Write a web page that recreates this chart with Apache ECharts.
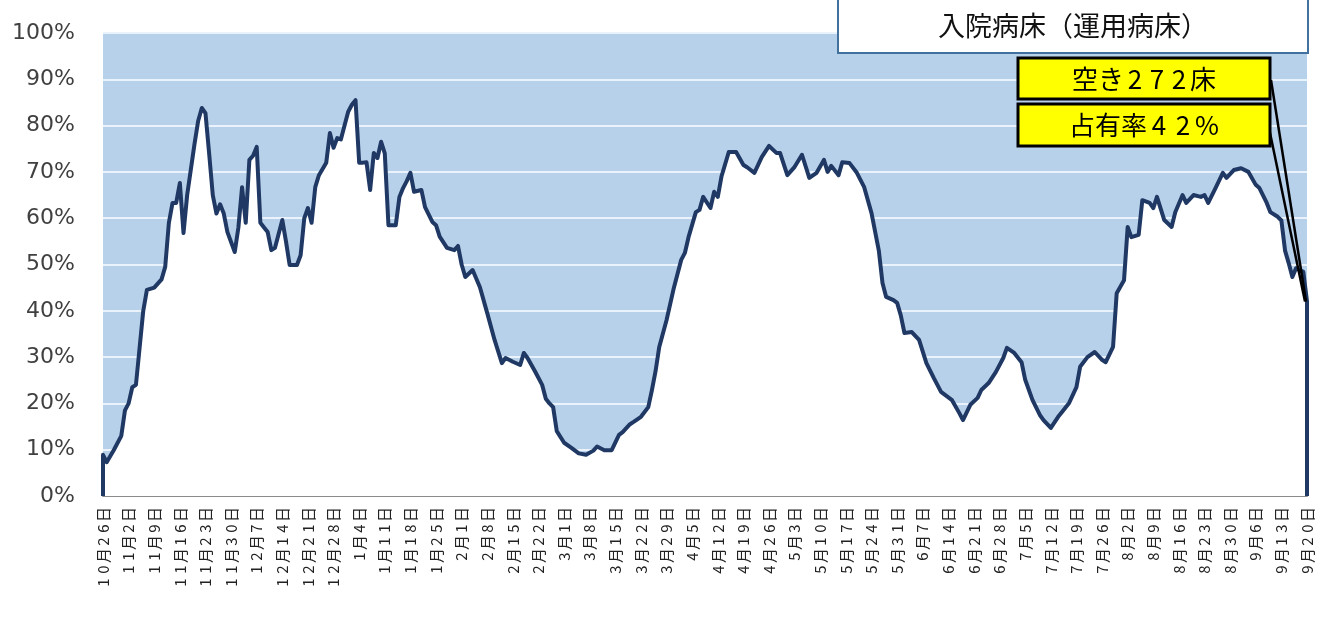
<!DOCTYPE html>
<html>
<head>
<meta charset="utf-8">
<title>入院病床（運用病床）</title>
<script src="https://cdn.jsdelivr.net/npm/echarts@6/dist/echarts.min.js"></script>
<style>
  html, body { margin: 0; padding: 0; background: #fff; }
  #chart { width: 1323px; height: 617px; }
</style>
</head>
<body>
<div id="chart"></div>
<script>
// 週ごとの目盛りラベル（10月26日から7日おき）
var weekLabels = [
  '10月26日', '11月2日', '11月9日', '11月16日', '11月23日', '11月30日',
  '12月7日', '12月14日', '12月21日', '12月28日', '1月4日', '1月11日',
  '1月18日', '1月25日', '2月1日', '2月8日', '2月15日', '2月22日',
  '3月1日', '3月8日', '3月15日', '3月22日', '3月29日', '4月5日',
  '4月12日', '4月19日', '4月26日', '5月3日', '5月10日', '5月17日',
  '5月24日', '5月31日', '6月7日', '6月14日', '6月21日', '6月28日',
  '7月5日', '7月12日', '7月19日', '7月26日', '8月2日', '8月9日',
  '8月16日', '8月23日', '8月30日', '9月6日', '9月13日', '9月20日'
];

// 占有率（%）: [10月26日からの日数, 値]  グラフから読み取り
var occupancy = [
  [0, 0], [0, 8.9], [1, 7.3], [3, 10], [5, 13], [6, 18.5], [7, 20], [8, 23.5], [9, 24],
  [10, 32], [11, 40], [12, 44.5], [14, 45], [16, 46.8], [17, 49.5], [18, 59], [19, 63.3],
  [20, 63.3], [21, 67.6], [22, 56.8], [23, 65], [25, 76], [26, 81], [27, 83.8], [28, 82.7],
  [29, 74], [30, 65], [31, 61], [32, 63], [33, 61], [34, 57], [36, 52.7], [37, 58],
  [38, 66.7], [39, 59], [40, 72.6], [41, 73.5], [42, 75.4], [43, 59], [44, 58], [45, 57],
  [46, 53.1], [47, 53.6], [49, 59.6], [50, 55], [51, 49.9], [53, 49.9], [54, 52], [55, 60],
  [56, 62.2], [57, 59], [58, 66.7], [59, 69.3], [61, 72], [62, 78.4], [63, 75.2], [64, 77.3],
  [65, 77], [66, 80], [67, 83], [68, 84.5], [69, 85.5], [70, 72], [71, 72], [72, 72.1],
  [73, 66.1], [74, 74.1], [75, 73], [76, 76.5], [77, 74], [78, 58.5], [80, 58.5], [81, 64.6],
  [82, 66.5], [83, 68], [84, 69.8], [85, 65.7], [87, 66.1], [88, 62.4], [90, 59.2], [91, 58.5],
  [92, 56], [94, 53.6], [96, 53.1], [97, 54], [98, 50], [99, 47.3], [101, 48.8], [103, 45.1],
  [105, 39.5], [107, 33.7], [109, 28.7], [110, 29.8], [112, 29], [114, 28.3], [115, 30.9],
  [116, 29.8], [118, 27], [120, 24], [121, 21], [122, 20], [123, 19.2], [124, 14], [126, 11.5],
  [128, 10.4], [130, 9.2], [132, 8.9], [134, 9.8], [135, 10.7], [137, 9.9], [139, 9.9],
  [141, 13.2], [142, 13.8], [144, 15.5], [145, 16], [147, 17.1], [149, 19.2], [150, 22.9],
  [151, 27], [152, 32.2], [154, 38], [156, 45], [158, 51], [159, 52.5], [160, 55.9], [162, 61.3],
  [163, 61.8], [164, 64.6], [166, 62.2], [167, 65.7], [168, 64.6], [169, 69], [171, 74.3],
  [173, 74.3], [175, 71.5], [176, 71], [178, 69.8], [180, 73.2], [182, 75.6], [184, 74.1],
  [185, 74.1], [187, 69.3], [189, 71.1], [191, 73.7], [193, 68.7], [195, 69.8], [197, 72.6],
  [198, 70], [199, 71.3], [201, 69.3], [202, 72.1], [204, 71.9], [206, 69.8], [208, 66.7],
  [210, 61.1], [212, 53], [213, 46], [214, 43], [216, 42.3], [217, 41.7], [218, 39], [219, 35.2],
  [221, 35.4], [223, 33.7], [225, 28.7], [227, 25.5], [229, 22.5], [232, 20.7], [234, 17.9],
  [235, 16.4], [237, 19.7], [239, 21.2], [240, 22.9], [242, 24.4], [244, 26.8], [246, 29.8],
  [247, 32], [249, 30.9], [251, 28.9], [252, 25.1], [254, 20.7], [256, 17.5], [257, 16.4],
  [259, 14.7], [261, 17.1], [262, 18.1], [264, 20.1], [266, 23.5], [267, 27.9], [269, 30],
  [271, 31.1], [273, 29.4], [274, 28.9], [276, 32.2], [277, 43.8], [279, 46.6], [280, 58.1],
  [281, 55.9], [283, 56.4], [284, 63.9], [286, 63.3], [287, 62.2], [288, 64.6], [290, 59.6],
  [292, 58.1], [293, 61.3], [295, 65], [296, 63.3], [298, 65], [300, 64.6], [301, 65],
  [302, 63.3], [304, 66.5], [306, 69.8], [307, 68.7], [309, 70.4], [311, 70.8], [313, 70],
  [315, 67.2], [316, 66.5], [318, 63.3], [319, 61.3], [321, 60.3], [322, 59.5], [323, 53],
  [324, 50.3], [325, 47.3], [326, 49.2], [328, 48.4], [329, 42], [329, 0]
];

var yTicks = [0, 10, 20, 30, 40, 50, 60, 70, 80, 90, 100];
var latest = { day: 329, rate: 42, vacant: 272 };

var jp = '"Noto Sans CJK JP", sans-serif';

// 数字を幅広に見せる（元図は数字の幅が広い）
function wideDigits(s) {
  return s.split('').map(function (ch) {
    return /[0-9%]/.test(ch) ? '{d|' + ch + '}' : '{c|' + ch + '}';
  }).join('');
}

var chart = echarts.init(document.getElementById('chart'));

chart.setOption({
  animation: false,
  backgroundColor: '#fff',
  grid: {
    left: 103, right: 16, top: 33, bottom: 121,
    show: true,
    backgroundColor: '#b8d1ea',
    borderWidth: 0
  },
  xAxis: {
    type: 'value',
    min: 0,
    max: 329,
    interval: 7,
    axisLine: { lineStyle: { color: '#8a8a8a', width: 2 } },
    axisTick: { show: true, inside: true, length: 3, lineStyle: { color: '#9a9a9a' } },
    splitLine: { show: false },
    axisLabel: {
      rotate: 90,
      margin: 11,
      color: '#222',
      fontFamily: jp,
      fontSize: 15,
      formatter: function (v) {
        return wideDigits(weekLabels[Math.round(v / 7)] || '');
      },
      rich: {
        c: { fontFamily: jp, fontSize: 15, color: '#222' },
        d: { fontFamily: jp, fontSize: 15, color: '#222', width: 13, align: 'center' }
      }
    }
  },
  yAxis: {
    type: 'value',
    min: yTicks[0],
    max: yTicks[yTicks.length - 1],
    interval: 10,
    axisLine: { show: false },
    axisTick: { show: false },
    splitLine: { lineStyle: { color: '#eaf2fb', width: 2 } },
    axisLabel: {
      margin: 28,
      color: '#404040',
      fontFamily: 'DejaVu Sans',
      fontSize: 22,
      formatter: '{value}%'
    }
  },
  series: [{
    name: '占有率',
    type: 'line',
    data: occupancy,
    showSymbol: false,
    symbol: 'none',
    lineStyle: { color: '#1f3864', width: 4, join: 'round' },
    areaStyle: { color: '#ffffff', opacity: 1 },
    z: 3
  }]
});

// 最新値への引き出し線と注記
var endPt = chart.convertToPixel({ gridIndex: 0 }, [latest.day, latest.rate]);

chart.setOption({
  graphic: [
    {
      type: 'rect',
      shape: { x: 838, y: -3, width: 470, height: 56 },
      style: { fill: '#fff', stroke: '#41719c', lineWidth: 2 },
      z: 10
    },
    {
      type: 'text',
      style: {
        text: '入院病床（運用病床）',
        x: 1073, y: 26,
        align: 'center', verticalAlign: 'middle',
        font: '27px ' + jp,
        fill: '#111'
      },
      z: 11
    },
    {
      type: 'line',
      shape: { x1: 1271, y1: 80, x2: endPt[0] - 1, y2: endPt[1] },
      style: { stroke: '#000', lineWidth: 2.5 },
      z: 10
    },
    {
      type: 'line',
      shape: { x1: 1269, y1: 128, x2: endPt[0] - 2, y2: endPt[1] },
      style: { stroke: '#000', lineWidth: 2.5 },
      z: 10
    },
    {
      type: 'rect',
      shape: { x: 1018, y: 58, width: 252, height: 41 },
      style: { fill: '#ffff00', stroke: '#000', lineWidth: 3 },
      z: 12
    },
    {
      type: 'text',
      style: {
        text: wideDigits('空き' + latest.vacant + '床'),
        x: 1144, y: 79,
        align: 'center', verticalAlign: 'middle',
        rich: {
          c: { fontFamily: jp, fontSize: 26, fill: '#000' },
          d: { fontFamily: jp, fontSize: 26, fill: '#000', width: 22, align: 'center' }
        }
      },
      z: 13
    },
    {
      type: 'rect',
      shape: { x: 1018, y: 104, width: 252, height: 42 },
      style: { fill: '#ffff00', stroke: '#000', lineWidth: 3 },
      z: 12
    },
    {
      type: 'text',
      style: {
        text: wideDigits('占有率' + latest.rate + '%'),
        x: 1144, y: 125,
        align: 'center', verticalAlign: 'middle',
        rich: {
          c: { fontFamily: jp, fontSize: 26, fill: '#000' },
          d: { fontFamily: jp, fontSize: 26, fill: '#000', width: 24, align: 'center' }
        }
      },
      z: 13
    }
  ]
});
</script>
</body>
</html>
